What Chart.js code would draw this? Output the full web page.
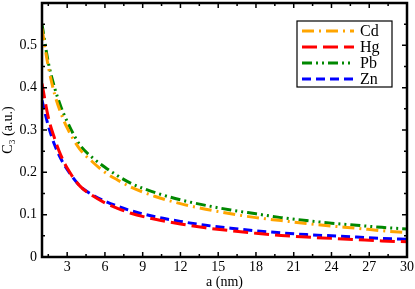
<!DOCTYPE html>
<html><head><meta charset="utf-8">
<script src="https://cdn.jsdelivr.net/npm/chart.js@4/dist/chart.umd.min.js"></script>
<style>html,body{margin:0;padding:0;background:#fff;}#wrap{width:415px;height:289px;}</style>
</head><body><div id="wrap"><canvas id="c" width="415" height="289"></canvas></div>
<script>
const aValues = [1,1.5,2,2.5,3,4,5,6,7,8,10,12,14,16,18,20,22,24,26,28,30];
const cdValues = [0.54,0.45,0.385,0.34,0.305,0.255,0.225,0.200,0.182,0.166,0.143,0.126,0.113,0.102,0.093,0.086,0.079,0.073,0.068,0.062,0.058];
const hgValues = [0.41,0.33,0.28,0.24,0.21,0.168,0.145,0.128,0.115,0.104,0.089,0.078,0.069,0.062,0.056,0.051,0.047,0.044,0.041,0.038,0.036];
const pbValues = [0.55,0.46,0.40,0.355,0.32,0.265,0.235,0.212,0.192,0.175,0.152,0.135,0.122,0.111,0.102,0.093,0.086,0.080,0.075,0.070,0.066];
const znValues = [0.37,0.31,0.265,0.232,0.207,0.168,0.147,0.132,0.12,0.11,0.095,0.084,0.075,0.068,0.062,0.057,0.053,0.050,0.047,0.044,0.042];
const xTickValues = [3,6,9,12,15,18,21,24,27,30];
const yTickValues = [0,0.1,0.2,0.3,0.4,0.5];
const seriesNames = ['Cd','Hg','Pb','Zn'];

const FONT = '"Liberation Serif", "DejaVu Serif", serif';
function pts(vals){ return aValues.map((a,i)=>({x:a,y:vals[i]})); }
const styles = [
  {color:'#FFA500', dash:[12,5,2,5]},
  {color:'#FF0000', dash:[15,6]},
  {color:'#008800', dash:[10,4,2,4,2,4]},
  {color:'#0000FF', dash:[9,5]}
];
const allVals = [cdValues,hgValues,pbValues,znValues];
const datasets = seriesNames.map((n,i)=>({
  label:n, data:pts(allVals[i]), borderColor:styles[i].color, borderDash:styles[i].dash,
  borderWidth:3, pointRadius:0, fill:false, cubicInterpolationMode:'monotone'
}));

const framePlugin = {
  id:'frame',
  afterDraw(chart){
    const ctx = chart.ctx, a = chart.chartArea;
    const xs = chart.scales.x, ys = chart.scales.y;
    ctx.save();
    ctx.strokeStyle = '#000';
    ctx.lineWidth = 1.5;
    for (let v = 1.5; v <= 30.001; v += 1.5) {
      const major = Math.abs(v/3 - Math.round(v/3)) < 1e-6;
      const len = major ? 5 : 3;
      const px = xs.getPixelForValue(v);
      ctx.beginPath();
      ctx.moveTo(px, a.bottom); ctx.lineTo(px, a.bottom - len);
      ctx.moveTo(px, a.top); ctx.lineTo(px, a.top + len);
      ctx.stroke();
    }
    for (let k = 0; k <= 11; k++) {
      const v = k*0.05;
      const major = k % 2 === 0;
      const len = major ? 5 : 3;
      const py = ys.getPixelForValue(v);
      ctx.beginPath();
      ctx.moveTo(a.left, py); ctx.lineTo(a.left + len, py);
      ctx.moveTo(a.right, py); ctx.lineTo(a.right - len, py);
      ctx.stroke();
    }
    ctx.lineWidth = 2.5;
    ctx.strokeRect(a.left, a.top, a.right - a.left, a.bottom - a.top);
    const bx = a.right - 110, by = a.top + 18, bw = 95, bh = 66;
    ctx.fillStyle = '#fff';
    ctx.fillRect(bx, by, bw, bh);
    ctx.lineWidth = 1.2;
    ctx.strokeRect(bx, by, bw, bh);
    ctx.font = '16px ' + FONT;
    ctx.textBaseline = 'middle';
    chart.data.datasets.forEach((ds, i) => {
      const yy = by + 10 + i*16;
      ctx.setLineDash(ds.borderDash);
      ctx.strokeStyle = ds.borderColor;
      ctx.lineWidth = 3;
      ctx.beginPath(); ctx.moveTo(bx + 5, yy); ctx.lineTo(bx + 57, yy); ctx.stroke();
      ctx.setLineDash([]);
      ctx.fillStyle = '#000';
      ctx.fillText(ds.label, bx + 63, yy + 1);
    });
    ctx.restore();
  }
};

new Chart(document.getElementById('c'), {
  type:'line',
  data:{datasets},
  options:{
    responsive:false, animation:false,
    layout:{padding:{top:3,right:8,left:0,bottom:0}},
    plugins:{legend:{display:false}, tooltip:{enabled:false}},
    scales:{
      x:{type:'linear', min:1, max:30,
        afterBuildTicks(s){ s.ticks = xTickValues.map(v=>({value:v})); },
        afterFit(s){ s.height = 32; s.paddingLeft = 0; s.paddingRight = 0; },
        grid:{display:false, drawTicks:false}, border:{display:false},
        ticks:{color:'#000', font:{family:FONT, size:14}, padding:2, maxRotation:0, callback:v=>String(v)},
        title:{display:true, text:'a (nm)', color:'#000', font:{family:FONT, size:14}, padding:{top:6,bottom:-2}}
      },
      y:{type:'linear', min:0, max:0.6,
        afterBuildTicks(s){ s.ticks = yTickValues.map(v=>({value:v})); },
        afterFit(s){ s.width = 42; s.paddingTop = 0; s.paddingBottom = 0; },
        grid:{display:false, drawTicks:false}, border:{display:false},
        ticks:{color:'#000', font:{family:FONT, size:14}, padding:5, callback:v=>(v===0?'0':String(Math.round(v*10)/10))},
        title:{display:true, text:'C\u2083 (a.u.)', color:'#000', font:{family:FONT, size:14}, padding:{top:0,bottom:0}}
      }
    }
  },
  plugins:[framePlugin]
});
</script></body></html>
